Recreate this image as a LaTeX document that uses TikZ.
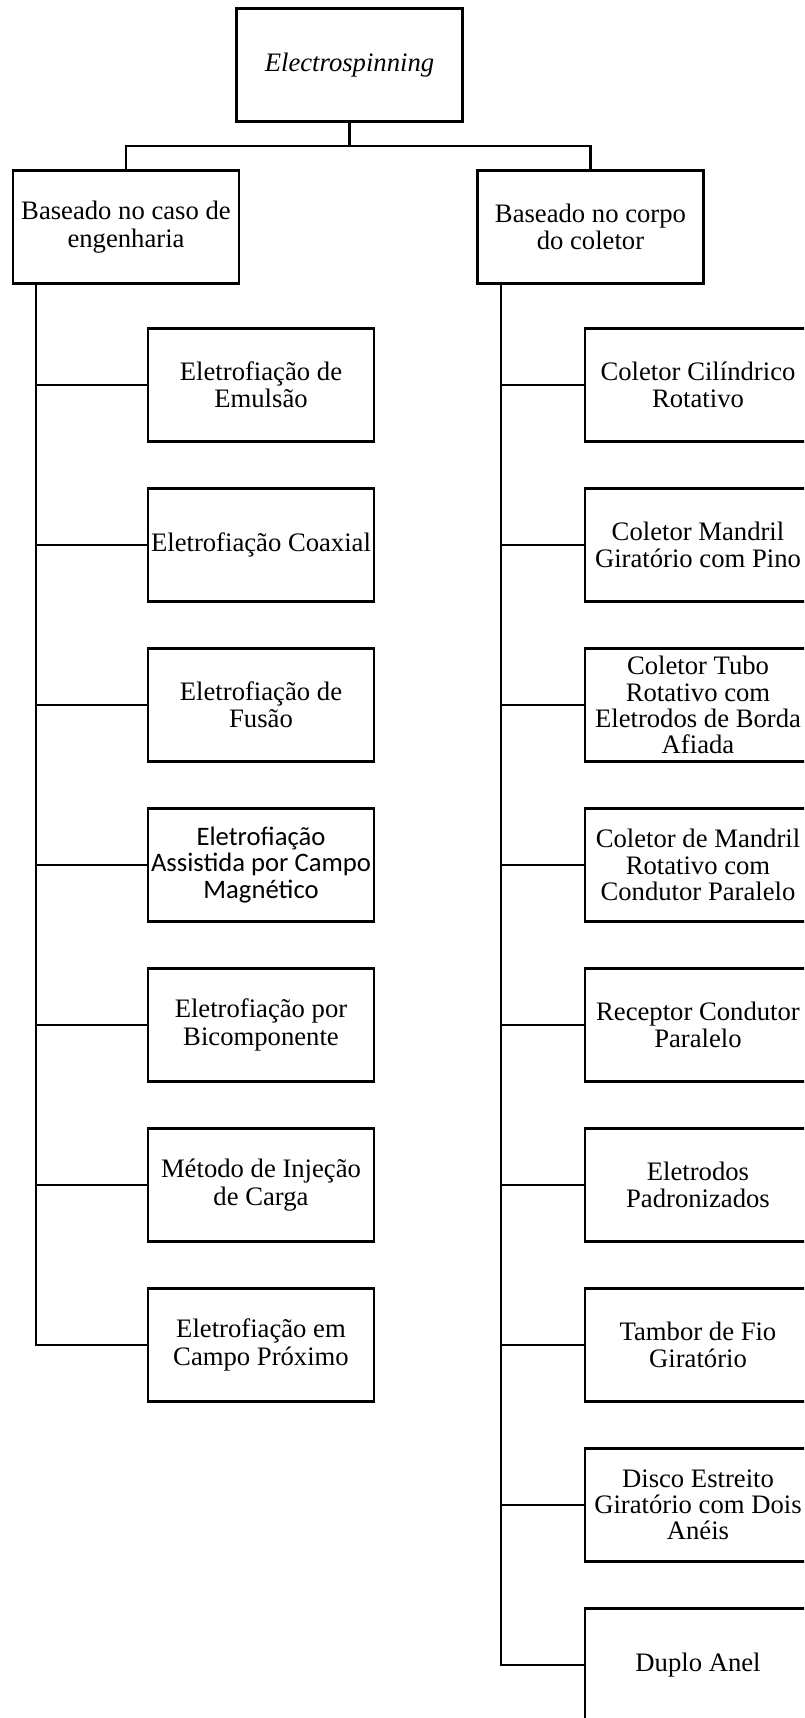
\documentclass[tikz,border=0pt]{standalone}
\usepackage{fontspec}
\setmainfont{Liberation Serif}
\newfontfamily\calibrifont{Carlito}
\usepackage{tikz}
\usetikzlibrary{positioning}
\tikzstyle{block} = [rectangle, minimum width=169.5pt, minimum height=84.75pt, inner sep=1pt, align=center, draw=black, line width=1.8pt, font=\fontsize{20}{20.5}\selectfont]
\tikzstyle{link} = [line width=1.8pt]

\begin{document}
\begin{tikzpicture}[x=0.75pt, y=-0.75pt, node distance=120pt]
\useasboundingbox (0,0) rectangle (804,1718);
\clip (0,0) rectangle (804,1718);

% Root
\node (espin) [block] at (349.5,65) {\textit{Electrospinning}};

% Categories
\node (eng) [block] at (126,227) {Baseado no caso de\\engenharia};
\node (col) [block] at (590.5,227) {Baseado no corpo\\do coletor};

% Engineering based methods
\node (emulsao) [block] at (261,385) {Eletrofiação de\\Emulsão};
\node (coaxial) [block, below of=emulsao] {Eletrofiação Coaxial};
\node (fusao) [block, below of=coaxial] {Eletrofiação de\\Fusão};
\node (magnetico) [block, below of=fusao, font=\calibrifont\fontsize{20}{19.7}\selectfont] {Eletrofiação\\Assistida por Campo\\Magnético};
\node (bicomp) [block, below of=magnetico] {Eletrofiação por\\Bicomponente};
\node (injecao) [block, below of=bicomp] {Método de Injeção\\de Carga};
\node (proximo) [block, below of=injecao] {Eletrofiação em\\Campo Próximo};

% Collector based methods
\node (cilindrico) [block] at (698,385) {Coletor Cilíndrico\\Rotativo};
\node (pino) [block, below of=cilindrico] {Coletor Mandril\\Giratório com Pino};
\node (tubo) [block, below of=pino, font=\fontsize{20}{19.7}\selectfont] {Coletor Tubo\\Rotativo com\\Eletrodos de Borda\\Afiada};
\node (mandril) [block, below of=tubo, font=\fontsize{20}{19.7}\selectfont] {Coletor de Mandril\\Rotativo com\\Condutor Paralelo};
\node (receptor) [block, below of=mandril] {Receptor Condutor\\Paralelo};
\node (padrao) [block, below of=receptor] {Eletrodos\\Padronizados};
\node (tambor) [block, below of=padrao] {Tambor de Fio\\Giratório};
\node (disco) [block, below of=tambor, font=\fontsize{20}{19.7}\selectfont] {Disco Estreito\\Giratório com Dois\\Anéis};
\node (anel) [block, below of=disco] {Duplo Anel};

% Connections
\coordinate (bus) at (349.5,146);
\draw [link] (espin.south) -- (bus);
\draw [link] (eng.north) -- (eng.north |- bus) -- (col.north |- bus) -- (col.north);

\coordinate (eng_spine) at (36,283.5);
\draw [link] (eng_spine) |- (proximo.west);
\foreach \n in {emulsao,coaxial,fusao,magnetico,bicomp,injecao}
  \draw [link] (\n.west) -- (\n.west -| eng_spine);

\coordinate (col_spine) at (501,283.5);
\draw [link] (col_spine) |- (anel.west);
\foreach \n in {cilindrico,pino,tubo,mandril,receptor,padrao,tambor,disco}
  \draw [link] (\n.west) -- (\n.west -| col_spine);

\end{tikzpicture}
\end{document}
